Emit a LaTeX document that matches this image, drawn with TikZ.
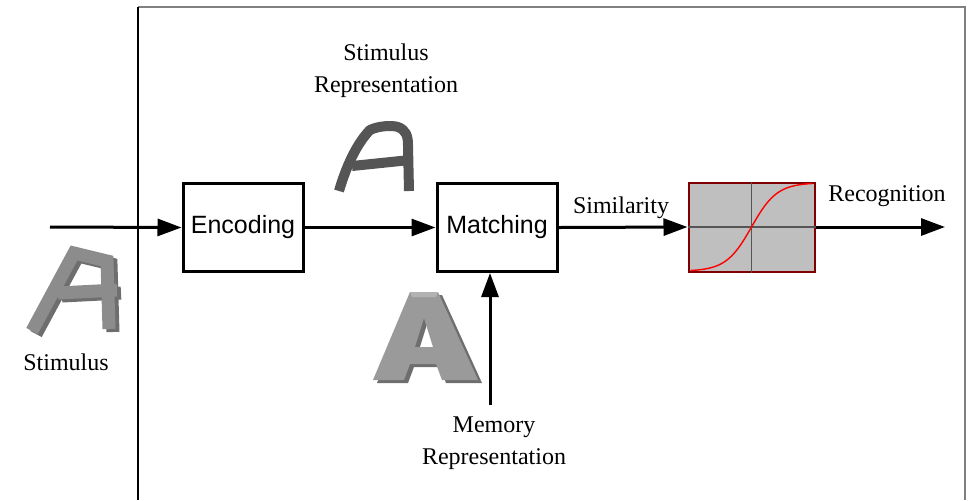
\documentclass[tikz,border=0pt]{standalone}
\usepackage{fontspec}
\setmainfont{Liberation Serif}
\setsansfont{Liberation Sans}
\usetikzlibrary{arrows.meta}
\definecolor{darkred}{HTML}{800000}
\definecolor{handgray}{HTML}{555555}
\definecolor{facegray}{HTML}{9A9A9A}
\definecolor{sidegray}{HTML}{6E6E6E}
\definecolor{stimgray}{HTML}{8C8C8C}
\begin{document}
\begin{tikzpicture}[x=0.5pt,y=-0.5pt,
  procbox/.style={draw=black,line width=1.5pt,minimum width=60pt,minimum height=44pt,inner sep=0pt,font=\sffamily\fontsize{12.5}{15}\selectfont},
  sigbox/.style={draw=darkred,line width=1pt,fill=gray!50,minimum width=63pt,minimum height=44.5pt,inner sep=0pt},
  flow/.style={line width=1.5pt,-{Triangle[length=12pt,width=8.5pt]}},
  lbl/.style={font=\fontsize{12}{16}\selectfont,align=center,inner sep=0pt}]
\useasboundingbox (0,0) rectangle (971,500);
% frame
\draw[gray,line width=0.6pt] (138,7) -- (965,7) -- (965,500);
\draw[black,line width=1pt] (138,7) -- (138,500);
% nodes
\node[procbox] (enc) at (243,227.5) {Encoding};
\node[procbox] (match) at (497,227.5) {Matching};
\node[sigbox] (sig) at (751.5,227) {};
\coordinate (in) at (50,227);
\coordinate (out) at (945,227);
\coordinate (mem) at (490,405);
% sigmoid contents
\draw[handgray,line width=0.9pt] (sig.west) -- (sig.east);
\draw[handgray,line width=0.9pt] (sig.north) -- (sig.south);
\draw[red,line width=0.7pt] plot[domain=-1:1,samples=60] ({751.5+61*\x},{227-43.5*tanh(2.4*\x)/tanh(2.4)});
% connectors
\draw[flow] (in) -- (enc.west);
\draw[flow] (enc.east) -- (match.west);
\draw[flow] (match.east) -- (sig.west);
\draw[flow] (sig.east) -- (out);
\draw[flow] (mem) -- (mem |- match.south);
% labels
\node[lbl] (stimrep) at (386,71) {Stimulus\\Representation};
\node[lbl] (memrep) at (494,443) {Memory\\Representation};
\node[lbl] (stim) at (66,362) {Stimulus};
\node[lbl] (simil) at (621,208) {Similarity};
\node[lbl] (recog) at (887,196) {Recognition};
% handwritten A
\draw[handgray,line width=5pt,line cap=butt,line join=round]
  (339,191) .. controls (348,160) and (360,140) .. (370,130)
  .. controls (378,126) and (392,125) .. (398,127)
  .. controls (406,130) and (408,136) .. (408,145) -- (409,191);
\draw[handgray,line width=5pt] (352,166) -- (410,160);
% block A (memory)
\fill[sidegray,even odd rule]
  (377,383) -- (414,295) -- (442,295) -- (482,383) -- (446,383) -- (440,367) -- (414,367) -- (408,383) -- cycle
  (428,321) -- (437,350) -- (419,350) -- cycle;
\fill[facegray,even odd rule]
  (373,380) -- (410,292) -- (438,292) -- (478,380) -- (442,380) -- (436,364) -- (410,364) -- (404,380) -- cycle
  (424,318) -- (433,347) -- (415,347) -- cycle;
\fill[gray!60] (410,292) -- (438,292) -- (436,297) -- (412,297) -- cycle;
% stimulus A
\begin{scope}[line width=6.5pt,line cap=butt]
\draw[sidegray] (36,334) -- (78,256) -- (111,264) -- (113,332);
\draw[sidegray] (62,296) -- (121,293);
\draw[stimgray] (32,331) -- (74,253) -- (107,261) -- (109,329);
\draw[stimgray] (58,293) -- (117,290);
\end{scope}
\end{tikzpicture}
\end{document}
